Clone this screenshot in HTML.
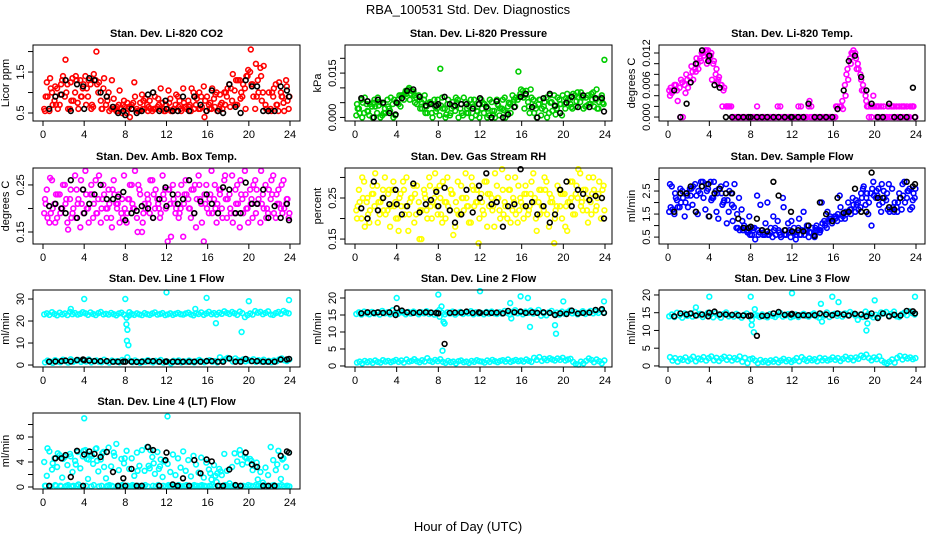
<!DOCTYPE html>
<html><head><meta charset="utf-8"><title>RBA_100531 Std. Dev. Diagnostics</title>
<style>
html,body{margin:0;padding:0;background:#fff;}
svg{display:block;font-family:"Liberation Sans",Arial,sans-serif;}
</style></head>
<body>
<svg id="chart" width="936" height="540" viewBox="0 0 936 540" xmlns="http://www.w3.org/2000/svg">
<text x="468" y="14" font-size="13" text-anchor="middle">RBA_100531  Std. Dev. Diagnostics</text>
<text x="468" y="531" font-size="13" text-anchor="middle">Hour of Day (UTC)</text>
</svg>
<script>
const xTicks=[0,4,8,12,16,20,24];
const xTickLabels=["0","4","8","12","16","20","24"];
const blackHours=[0.6,1.2,1.8,2.2,2.7,3.3,3.9,4.0,4.5,5.0,5.6,6.2,6.8,7.3,7.8,8.0,8.6,9.1,9.6,10.2,10.7,11.3,11.9,12.0,12.6,13.1,13.6,14.2,14.7,15.3,15.9,16.4,17.0,17.5,18.1,18.7,19.2,19.7,20.3,20.8,21.4,21.9,22.5,23.1,23.7,23.9];

const co2A=[0.6,1.25,0.55,1.0,0.8,1.1,0.7,1.3,0.9,1.2,0.6,1.35,1.0,0.75,1.3,1.1,1.4,0.9,1.2,0.65,1.3,1.0,0.8,1.1,0.7,1.0,0.6,0.85,0.55,0.7,0.6,0.8,0.5,0.65,0.7,1.25,0.6,0.55,0.95,0.6,0.7,0.8,0.55,0.9,0.65,0.6,0.75,0.55,0.6,0.85,0.55,0.7,0.9,0.6,1.1,0.65,0.8,0.55,1.0,0.7,0.6,0.9,1.15,0.55,0.7,0.6,0.85,1.0,0.6,0.75,1.0,0.9,1.2,0.8,1.05,0.7,1.3,0.9,1.1,1.4,1.5,1.2,0.6,1.3,1.6,1.0,0.7,0.55,0.6,0.9,1.2,0.55,1.0,0.75,1.3,0.6];
const co2B=[0.55,0.9,1.35,0.7,1.15,0.6,0.95,1.4,1.8,0.6,1.25,0.8,1.4,0.6,0.9,1.2,0.7,1.3,0.6,1.45,2.0,1.25,0.6,1.35,0.9,0.55,1.3,0.6,0.65,1.05,0.5,0.65,0.75,0.4,0.6,0.9,0.55,0.75,0.6,0.85,0.55,0.6,1.0,0.6,0.85,1.1,0.6,0.7,1.05,0.55,0.6,0.95,0.65,0.55,0.75,0.6,0.65,1.1,0.6,0.85,1.0,0.65,0.4,0.9,0.6,1.1,0.65,0.55,0.95,0.6,0.7,1.1,0.65,1.45,0.7,1.3,0.85,1.2,0.6,1.55,2.05,0.9,1.7,1.0,1.4,1.65,0.6,1.0,0.55,1.1,0.7,1.25,0.9,0.55,1.15,0.9];
const co2C=[0.9,1.1,0.7,1.2,1.0,0.8,1.3,0.9,1.1,0.7,1.2,0.6,0.8,0.65,0.55,0.7,0.6,0.75,0.55,0.8,0.65,0.6,0.7,0.55,0.75,0.6,0.8,0.65,0.7,0.9,0.6,0.8,0.75,0.95,0.7,1.0,1.1,1.3,1.0,1.4,1.2,0.9,0.8,0.6,1.0,0.7,0.9,0.8];
const co2Black=[0.6,0.9,0.95,1.3,0.55,1.2,1.15,0.6,1.35,1.3,1.0,0.9,0.65,0.5,0.55,0.45,0.6,0.5,0.55,0.95,1.0,0.55,0.8,0.6,0.55,0.55,0.9,0.55,0.9,0.7,0.55,1.05,0.55,0.5,1.2,0.65,0.5,1.3,1.15,1.15,0.55,0.55,0.55,1.15,1.05,0.9];
const co2Ticks=[0.5,1,1.5,2];
const co2TickLabels=["0.5","","1.5",""];

const presA=[0.7,3,6,1.5,4.5,0.7,3.7,6,1.5,5.2,0.7,3,6,2.2,4.5,0.7,6,3.7,7.5,9,9.5,8,8.7,6.7,7.5,5.2,6,3.7,4.5,1.5,6,3,0.7,6.7,3,4.5,0.7,5.2,2.2,6,3,0.7,5.2,1.5,6,3.7,0.7,4.5,6,1.5,3.7,0.7,5.2,2.2,6,0.7,3,6.7,1.5,4.5,7.5,3.7,6,8,9,7.5,5.2,9.5,6,3,4.5,0.7,3.7,6.7,1.5,5.2,7.5,3,6,0.7,4.5,8,6,3,7.5,8.5,5.2,6.7,3.7,7.5,4.5,8.5,6,3,6.7,4.5];
const presB=[4.5,1.5,0,6.7,2.2,4.5,0,3.7,6.7,0,4.5,1.5,3.7,6.7,0,5.2,4.5,7.5,6,8,10,9,7.5,4.5,6,3,7.5,1.5,5.2,0,3.7,6,16.5,3,0,6,1.5,3.7,6.7,0,4.5,6.7,1.5,3.7,0,6,2.2,0,3,4.5,0,6,2.2,0,4.5,3,6,0,3.7,1.5,5.2,6.7,15.5,9.5,6.7,9,3.7,6.7,1.5,0,6,3,5.2,0,7.5,2.2,3.7,6.7,4.5,7.5,3,6,4.5,8,3.7,6.7,8.5,3,6.7,4.5,8,3.7,9.5,5.2,7.5,19.5];
const presC=[3,5,2,5,4,1.5,3,6,7.5,8,6,5,3,1.5,5,2,4,1,3,5,1.5,3,4.5,2,5,3,1,4,2.5,5,6,7,3,1.5,4,6,2.5,5,1,4.5,6.5,3.5,5.5,7,4,6,3,5];
const presBlack=[6.5,5.5,0,6,5,1.5,1,5,6.5,9,9.5,7,4,4.5,4,4.5,7,4.5,4,4.5,4.5,3,4.5,6.5,3.5,0,5.5,0,1,3.5,7,8,3.5,0,6.5,8,4,1.5,5,7,3.5,7.5,3.5,6.5,6.5,2];
const presTicks=[0,5,10,15,20];
const presTickLabels=["0.000","","","0.015",""];

const tempA=[5,4.5,6,5,5.5,6.5,6,7,7.5,8.5,9,10,11,12,12.5,12.5,11.5,10,8,7,6,5,2,2,2,0,0,0,0,0,0,0,0,0,2,0,0,0,0,0,0,0,2,2,0,0,0,0,0,0,2,2,0,0,2,2,0,0,0,0,0,0,0,0,0,2,2,3,6,9,11,12,12,10,8,6,4,2,2,4,2,2,2,2,0,2,2,2,2,2,2,2,2,0,2,0];
const tempB=[4,5,6,3,0,0,4.5,5.5,6.5,7,8.5,9,10.5,11.5,12.5,11,12,10.5,9,7.5,6,5.5,2,2,0,0,0,0,0,0,0,0,0,0,0,0,0,0,0,0,0,0,0,0,0,0,0,0,0,0,0,0,0,0,3,0,0,0,0,0,0,0,0,0,0,1.5,2,1.5,4,7,10,12.5,11,9,7,5,3,0,0,2,0,0,0,0,0,0,0,0,0,0,0,0,0,2,2,0];
const tempC=[5.5,6,7,8,9.5,11,12,10,7,6.5,2,2,0,0,0,0,0,0,0,0,0,0,0,0,0,0,0,0,0,0,0,0,2,2,8,12,9,5,2,2,2,0,2,2,0,2,0,2];
const tempBlack=[5,0,2.5,6.5,10,12.5,10.5,11.5,6,5.5,0,0,0,0,0,0,0,0,0,0,0,0,0,0,0,0,2.5,0,0,0,0,1.5,5,10.5,11.5,7.5,5,2.5,0,0,2.5,0,0,0,5.5,0];
const tempTicks=[0,2,4,6,8,10,12];
const tempTickLabels=["0.000","","","0.006","","","0.012"];

const ambA=[0.19,0.24,0.17,0.26,0.21,0.18,0.23,0.2,0.25,0.17,0.22,0.19,0.27,0.21,0.16,0.24,0.28,0.2,0.23,0.18,0.26,0.22,0.17,0.25,0.2,0.24,0.18,0.26,0.21,0.23,0.19,0.27,0.17,0.22,0.25,0.2,0.18,0.24,0.15,0.21,0.23,0.19,0.26,0.2,0.22,0.18,0.27,0.24,0.13,0.21,0.25,0.19,0.23,0.2,0.14,0.26,0.22,0.18,0.24,0.16,0.27,0.21,0.13,0.25,0.19,0.28,0.22,0.17,0.24,0.2,0.26,0.18,0.23,0.27,0.19,0.25,0.16,0.22,0.28,0.2,0.24,0.18,0.26,0.21,0.17,0.23,0.25,0.19,0.22,0.27,0.18,0.24,0.2,0.26,0.21,0.18];
const ambB=[0.22,0.18,0.265,0.2,0.17,0.23,0.19,0.25,0.21,0.155,0.24,0.2,0.18,0.22,0.26,0.19,0.23,0.17,0.25,0.21,0.19,0.27,0.2,0.23,0.18,0.21,0.16,0.23,0.2,0.17,0.22,0.2,0.19,0.25,0.21,0.28,0.15,0.23,0.17,0.2,0.22,0.26,0.18,0.24,0.21,0.19,0.23,0.2,0.24,0.14,0.22,0.2,0.18,0.25,0.21,0.23,0.2,0.24,0.19,0.22,0.25,0.17,0.23,0.2,0.22,0.19,0.25,0.21,0.23,0.18,0.27,0.22,0.2,0.17,0.24,0.21,0.26,0.19,0.23,0.17,0.21,0.25,0.19,0.22,0.28,0.2,0.18,0.24,0.26,0.19,0.23,0.21,0.25,0.2,0.22,0.19];
const ambC=[0.21,0.19,0.23,0.2,0.22,0.18,0.24,0.21,0.2,0.23,0.19,0.22,0.2,0.24,0.21,0.18,0.22,0.2,0.25,0.19,0.21,0.23,0.2,0.22,0.24,0.21,0.19,0.23,0.2,0.25,0.22,0.21,0.23,0.2,0.24,0.22,0.19,0.21,0.23,0.2,0.22,0.24,0.21,0.2,0.23,0.21,0.19,0.22];
const ambBlack=[0.205,0.21,0.2,0.19,0.26,0.18,0.24,0.19,0.21,0.23,0.25,0.22,0.22,0.225,0.235,0.175,0.19,0.195,0.205,0.2,0.18,0.22,0.245,0.205,0.23,0.21,0.22,0.26,0.19,0.215,0.23,0.21,0.19,0.245,0.24,0.19,0.19,0.255,0.21,0.21,0.24,0.18,0.205,0.18,0.21,0.175];
const ambTicks=[0.15,0.2,0.25];
const ambTickLabels=["0.15","","0.25"];

const rhA=[0.22,0.27,0.2,0.29,0.24,0.19,0.26,0.23,0.28,0.21,0.25,0.3,0.22,0.18,0.27,0.24,0.2,0.26,0.29,0.23,0.17,0.25,0.28,0.21,0.24,0.15,0.27,0.22,0.3,0.2,0.25,0.23,0.28,0.19,0.24,0.3,0.22,0.26,0.18,0.29,0.21,0.25,0.31,0.23,0.19,0.27,0.24,0.14,0.26,0.21,0.29,0.23,0.25,0.18,0.28,0.22,0.32,0.24,0.2,0.27,0.22,0.3,0.19,0.25,0.23,0.28,0.21,0.26,0.31,0.2,0.24,0.27,0.22,0.29,0.18,0.25,0.14,0.23,0.27,0.2,0.26,0.17,0.24,0.29,0.21,0.25,0.31,0.22,0.27,0.19,0.24,0.3,0.22,0.26,0.2,0.28];
const rhB=[0.2,0.24,0.3,0.18,0.25,0.22,0.28,0.31,0.19,0.24,0.27,0.21,0.26,0.23,0.29,0.2,0.17,0.23,0.27,0.3,0.21,0.25,0.19,0.28,0.15,0.22,0.26,0.2,0.28,0.24,0.31,0.21,0.25,0.29,0.2,0.23,0.27,0.16,0.24,0.21,0.28,0.22,0.25,0.19,0.3,0.23,0.27,0.2,0.24,0.29,0.18,0.26,0.22,0.31,0.25,0.2,0.27,0.23,0.3,0.19,0.25,0.21,0.28,0.24,0.2,0.26,0.22,0.29,0.24,0.17,0.27,0.23,0.3,0.21,0.26,0.24,0.2,0.28,0.23,0.26,0.18,0.24,0.29,0.21,0.26,0.32,0.23,0.27,0.25,0.3,0.21,0.27,0.23,0.29,0.25,0.22];
const rhC=[0.23,0.25,0.21,0.26,0.24,0.22,0.27,0.23,0.25,0.21,0.24,0.26,0.22,0.25,0.23,0.27,0.21,0.24,0.26,0.22,0.25,0.23,0.28,0.24,0.22,0.26,0.23,0.25,0.21,0.27,0.24,0.22,0.26,0.23,0.25,0.21,0.27,0.24,0.22,0.26,0.23,0.25,0.28,0.24,0.22,0.26,0.25,0.27];
const rhBlack=[0.225,0.2,0.29,0.22,0.25,0.235,0.27,0.235,0.21,0.23,0.285,0.215,0.235,0.245,0.265,0.23,0.275,0.22,0.19,0.21,0.27,0.215,0.28,0.25,0.31,0.235,0.24,0.18,0.23,0.235,0.32,0.23,0.24,0.21,0.23,0.19,0.21,0.27,0.29,0.23,0.27,0.26,0.245,0.255,0.25,0.2];
const rhTicks=[0.15,0.2,0.25,0.3];
const rhTickLabels=["0.15","","0.25",""];

const sfA=[1.6,2.7,1.5,2.1,1.8,2.5,1.4,2.3,2.6,1.9,2.8,1.5,2.4,2.9,1.7,2.6,2.9,2.2,2.5,1.3,2.7,2.0,2.8,1.6,2.4,1.8,0.9,2.2,1.7,1.0,0.8,1.4,0.6,0.9,2.3,0.7,0.8,0.6,2.0,0.7,0.5,0.9,1.2,0.6,2.2,0.8,1.1,0.5,0.7,0.4,0.9,0.6,1.6,0.8,0.5,0.7,0.6,1.0,0.8,2.0,1.2,0.9,1.3,1.1,1.4,1.2,2.3,1.5,1.3,1.6,1.7,2.2,1.6,2.0,1.8,2.6,1.9,1.5,2.4,2.9,2.2,2.6,1.6,2.5,2.1,2.8,1.7,1.6,1.8,2.4,1.7,2.9,2.2,2.6,1.8,2.2];
const sfB=[2.8,1.7,2.4,1.8,2.6,2.2,2.0,1.8,2.3,2.7,1.6,2.5,2.9,2.2,2.8,1.4,2.1,2.9,1.6,2.6,2.4,2.1,1.1,2.5,1.9,2.8,1.5,0.8,1.2,0.9,0.7,0.6,0.9,0.4,0.8,1.9,0.6,1.1,0.6,0.9,1.4,0.6,0.8,0.5,1.8,0.6,0.7,1.2,0.9,0.6,1.3,0.8,0.6,1.0,0.7,0.9,0.5,0.8,0.7,1.1,1.0,1.6,1.4,1.2,1.3,1.5,1.8,1.4,1.6,2.0,1.5,1.9,2.1,1.7,2.4,2.7,2.2,2.0,1.0,2.3,2.5,1.9,2.8,2.2,2.4,1.6,2.6,2.0,1.6,2.2,2.8,2.0,2.5,1.7,2.1,2.6];
const sfC=[1.8,2.2,2.0,2.4,2.6,2.3,2.7,2.5,2.2,2.4,1.9,2.1,1.2,0.9,0.8,0.7,0.8,0.6,0.7,0.6,0.8,0.7,0.6,0.8,0.7,0.6,0.8,0.7,0.9,0.8,1.1,1.3,1.4,1.3,1.5,1.7,1.9,2.2,2.4,2.6,2.3,2.0,1.7,1.8,2.0,2.3,2.5,2.4];
const sfBlack=[1.6,2.4,2.4,2.7,1.6,2.7,2.8,1.4,2.4,2.6,2.4,2.4,1.3,0.9,0.9,0.95,1.3,0.8,0.75,2.9,2.3,0.8,1.6,0.75,0.8,0.75,1.0,0.55,2.0,1.5,1.2,2.2,1.55,1.6,2.6,1.6,1.6,3.3,2.2,2.2,1.8,1.7,2.2,2.9,2.7,2.8];
const sfTicks=[0.5,1,1.5,2,2.5,3];
const sfTickLabels=["0.5","","1.5","","2.5",""];

const l1A=[23,23.5,22.8,24,23.2,22.6,23.8,23,23.4,22.7,24.2,23.1,23.6,22.9,23.3,24,23.5,22.8,23.9,23.2,22.7,23.6,24.1,23,23.3,22.9,23.7,23.1,22.6,23.4,23.8,22.9,21.5,22.5,23.2,22.8,23.5,23,22.7,23.6,23.1,22.8,23.4,23.9,22.9,23.2,23.6,22.7,23,23.5,22.8,23.3,23.7,23.1,22.9,23.4,23.8,23,22.6,23.5,23.2,23.9,22.8,23.4,24.2,23.1,23.6,22.9,23.8,23.3,24.4,23.7,23.2,24.1,23.5,22.8,24.3,23.6,21.8,22.7,23.4,22.9,24.5,23.8,24.2,23.1,23.7,24.4,23,22.8,23.6,24.1,23.3,24.6,23.9,23.5];
const l1B=[1.2,2,1.5,1,2.2,1.6,1.3,2.4,1.8,1.1,2.6,1.5,1.9,2.3,1.4,2,1.6,2.5,1.2,1.8,2.1,1.5,1.3,2.4,1.7,1.1,2,1.5,1.8,1.2,2.3,1.6,3.5,1.9,1.3,2.1,1.5,1,1.8,1.4,2.2,1.6,1.2,1.9,1.5,2.3,1.1,1.7,1.4,0.8,1.9,1.5,2.1,1.2,1.7,1.4,2,1.5,1.2,1.8,2.3,1.6,1.3,1.9,2.2,1.5,1.8,1.2,3.5,2.1,2.6,3.2,2.8,1.6,3,2.2,1.9,2.5,1.7,2.3,1.8,2.6,1.4,2.2,1.6,2.4,1.5,1.9,1.3,2.1,1.7,2.5,3,2.2,1.8,2.6];
const l1ExtraHours=[2.7,4,8,8.1,8.2,8.15,8.3,8.4,12,14.8,15.9,16.8,19.3,20,23.9];
const l1ExtraValues=[25.5,30,30,18.5,16,11,9,24,33,25.5,30.5,19,15,29,29.5];
const l1Black=[1.5,1.6,1.8,2,1.6,2.3,2.5,2.2,2,1.8,1.8,1.8,1.5,1.5,1.5,1.5,1.5,1.4,1.5,1.8,1.8,1.5,1.5,1.6,1.5,1.5,1.5,1.5,1.5,1.5,1.8,1.8,1.5,1.5,3,1.5,1.5,2.8,1.8,1.8,1.5,1.5,1.5,2.5,2.5,2.8];
const l1Ticks=[0,10,20,30];
const l1TickLabels=["0","10","20","30"];

const l2A=[15.3,15.8,15.1,16,15.5,15.2,15.9,15.4,15.7,15.1,16.2,15.5,15.8,15.2,16.4,15.6,15.3,16.1,15.7,15.2,15.9,15.4,16,15.6,15.2,15.8,15.5,16.1,15.3,15.7,15.1,15.9,14.5,15.6,15.2,15.8,15.4,16,15.1,15.6,15.9,15.3,15.7,15.5,16.1,15.2,15.8,15.4,15.6,15.2,15.9,15.4,16,15.5,15.3,15.8,15.4,16.2,15.6,15.1,15.9,16.4,15.5,15.8,15.2,16,15.6,16.3,15.4,15.9,16.5,14.8,15.5,14.9,15.8,16.2,15.3,15.7,15.1,16,15.4,15.8,16.3,15.5,15.9,15.2,15.6,16.1,15.3,15.7,16.2,15.5,16,15.6,16.4,15.8];
const l2B=[1,1.3,0.8,1.5,1.1,1.4,0.9,1.6,1.2,1,1.7,1.3,1.5,1.1,1.4,1.8,1.2,1.6,1,1.9,1.3,1.5,2,1.4,1.1,1.7,1.3,2.3,1.5,1.2,1.8,1.4,2,1.2,0.9,1.5,1.1,1.3,0.8,1.4,1.6,1.1,1.3,0.9,1.5,1.2,1.7,1.4,1.3,1,1.6,1.2,1.8,1.4,1.1,1.5,1.7,1.3,1.9,1.2,1.5,1.8,1.4,1.6,1.3,1.9,1.5,1.2,2.4,1.8,2.6,1.5,2.1,1.7,2.3,1.9,1.6,2.2,1.8,2.4,1.6,1.9,2.1,1.2,0.6,0.4,1.3,0.8,1.5,2.2,1.8,1.1,1.9,1.4,0.8,1.6];
const l2ExtraHours=[4,8,8.1,8.3,8.5,8.6,8.4,12,14.9,15,15.9,16.8,16.6,19.2,19.3,20,23.9];
const l2ExtraValues=[20,21,16.5,17.5,13,12.5,4.5,22,18.5,14,20.5,11.5,20,12,9.5,19,19];
const l2Black=[15.5,15.8,15.6,15.8,15.6,15.8,15,17,16.3,15.8,15.6,15.8,15.8,15.7,15.6,15.5,6.5,15.6,15.7,15.7,16,15.6,15.8,15.6,15.7,15.6,15.7,15.5,16.2,15.8,16,15.6,15.8,15.6,15.8,15.6,15,15.5,15.3,16.3,15.4,15.6,15.7,16.5,16.7,15.6];
const l2Ticks=[0,5,10,15,20];
const l2TickLabels=["0","5","10","15","20"];

const l3A=[14,14.5,13.8,15,14.2,13.6,14.8,14.1,14.6,13.9,15.2,14.3,14.7,13.8,14.4,15,14.5,13.7,14.9,14.2,13.6,14.6,15.1,14,14.3,13.9,14.7,14.1,13.6,14.4,14.8,13.9,13,14.4,14.2,13.8,14.5,14,13.7,14.6,14.1,13.8,14.4,14.9,13.9,14.2,14.6,13.7,14,14.5,13.8,14.3,14.7,14.1,13.9,14.4,14.8,14,13.6,14.5,14.2,15.1,13.8,14.4,14.7,14.1,14.6,13.9,14.8,14.3,15.2,14.7,14.2,13,14.5,13.8,15.3,14.6,14.2,13.7,14.4,13.9,15.1,14.8,15.2,14.1,14.7,15.3,14,13.8,14.6,15,14.3,15.4,14.9,14.5];
const l3B=[2.5,1.5,2.2,1.2,2,1.7,2.4,1.4,1.9,2.6,1.3,2.1,1.8,2.5,1.5,2.2,2.7,1.6,2.3,1.4,2.1,2.6,1.7,2.4,1.5,2.2,1.8,2.7,1.2,2.3,0.8,1.9,2.1,1.5,0.8,1.7,1.1,1.4,0.9,1.6,1.2,1.8,1,1.5,2,1.3,1.7,1.1,1.6,2.2,1.3,2.5,1.8,1.4,2.1,1.6,1.9,1.3,2.3,1.6,2.1,1.5,1.8,2.4,1.7,2.2,1.4,2,2.6,1.8,2.3,1.6,2.4,2,2.9,2.5,3.2,2.2,1.6,2.4,1.9,2.7,1.5,1,0.7,1.2,1.8,0.9,2.3,2.8,1.8,2.6,2.1,2.4,1.9,2.2];
const l3ExtraHours=[2.7,4,8,8.1,8.3,8.4,12,14.8,14.9,15.9,16.5,19.2,19.3,20,23.9];
const l3ExtraValues=[16.5,19.5,19.5,11.5,9.5,16,20.5,17.5,12.5,19.5,18,10,12,18.5,19.5];
const l3Black=[14,14.8,14.5,14.8,14.2,14.5,14,15,15.3,14.5,14.5,14.4,14.3,14.2,14.1,14.2,8.5,14.1,14.2,14.8,15.2,14.4,14.5,14.7,14.3,14.3,14.3,14.3,14.8,14.5,14.3,14.8,14.5,14.2,14.7,14.5,14,14.8,13.5,14.8,14,14.4,14.2,15.5,15.4,14.8];
const l3Ticks=[0,5,10,15,20];
const l3TickLabels=["0","5","10","15","20"];

const l4A=[4,1.8,5.7,2.8,4.6,3.2,5.1,1.5,4.8,3.5,5.3,2.4,4.2,5.6,3,4.9,5.9,1.3,5.2,3.7,6.1,2.5,4.4,5.6,1.4,6.3,3.3,5.5,6.9,2.7,4.5,3.8,5.8,2.9,4.6,1.8,5.5,3.4,5.9,2.6,6.4,3,4.8,2.1,5.6,3.3,1.6,4.2,3.7,2.4,5.2,1.9,4.6,3.1,5.7,2.6,4.3,1.7,5,3.6,2.3,4.7,1.5,3.9,2.8,1.2,3.5,0.8,2.9,1.9,5.3,2.6,0.6,3.2,5.4,4.1,5.9,3.6,4.8,3.9,4.5,2.7,3.3,1.2,2.4,0.7,3.1,1.9,6.4,4.3,2.7,5.8,1.3,4.6,3.2,5.5];
const l4B=[0.2,6.2,0.1,3.8,0.3,5.4,0.2,4.5,0.1,0.3,4.9,0.2,3.6,0.4,0.1,5.8,0.2,4.4,0.1,0.3,6.2,0.1,0.2,3.2,0.1,0.3,0.2,5,0.1,0.2,0.3,4.6,0.2,0.1,0.3,0.2,2.6,0.1,0.2,0.3,0.1,5.9,0.2,0.1,0.3,4.4,0.2,0.1,0.3,0.2,0.1,0.2,0.3,0.1,0.2,0.3,0.2,0.1,0.3,0.2,0.1,0.3,0.2,0.1,0.2,0.3,0.1,2.2,0.2,0.1,0.3,0.2,0.1,0.2,0.3,0.1,5.2,0.2,0.1,0.3,0.2,0.1,0.3,0.2,0.1,0.3,0.2,0.1,0.2,0.3,0.1,0.2,0.3,0.1,0.2,0.1];
const l4C=[0.2,0.1,0.2,0.1,0.2,0.1,0.2,0.1,4.5,5,4.2,5.4,0.2,0.1,0.2,0.1,0.2,0.1,0.2,0.1,3.4,3.8,2.9,4.1,0.2,0.1,0.2,0.1,0.2,0.1,0.2,0.1,2.2,1.8,2.5,0.2,0.1,0.2,0.1,4.6,4.2,3.9,0.2,0.1,0.2,3.6,4.4,0.2];
const l4ExtraHours=[4,12.1];
const l4ExtraValues=[11,11.3];
const l4Black=[0.2,4.6,4.6,5.1,1.6,5.8,0.2,5.2,5.7,5.3,4.8,5.6,2.4,0.2,1.4,0.2,2.9,0.2,0.2,6.4,5.9,0.2,4.3,5.5,0.4,0.2,1.4,0.2,4.3,2.2,4.4,4.1,0.2,0.2,2.8,0.3,0.2,5.5,3.6,3.2,0.2,0.2,0.2,5.0,5.7,5.5];
const l4Ticks=[0,2,4,6,8,10];
const l4TickLabels=["0","","4","","8",""];

const SVGNS="http://www.w3.org/2000/svg";
const svg=document.getElementById('chart');
const cols=[{bl:33,br:300,x0:43,x24:290},{bl:345,br:612,x0:355,x24:605},{bl:659,br:925,x0:668,x24:916}];
const rows=[{top:45,bot:121},{top:168,bot:244},{top:290,bot:367},{top:413,bot:489}];
const panels=[
 {name:'co2',title:'Stan. Dev. Li-820 CO2',ylab:'Licor ppm',r:0,c:0,lo:0.305,hi:2.16,col:'#ff0000',series:[co2A,co2B,co2C],black:co2Black,ticks:co2Ticks,labels:co2TickLabels},
 {name:'pressure',title:'Stan. Dev. Li-820 Pressure',ylab:'kPa',r:0,c:1,lo:-1.2,hi:24.5,col:'#00cc00',series:[presA,presB,presC],black:presBlack,ticks:presTicks,labels:presTickLabels},
 {name:'li820-temp',title:'Stan. Dev. Li-820 Temp.',ylab:'degrees C',r:0,c:2,lo:-0.74,hi:13.5,col:'#ff00ff',series:[tempA,tempB,tempC],black:tempBlack,ticks:tempTicks,labels:tempTickLabels},
 {name:'amb-box-temp',title:'Stan. Dev. Amb. Box Temp.',ylab:'degrees C',r:1,c:0,lo:0.1245,hi:0.286,col:'#ff00ff',series:[ambA,ambB,ambC],black:ambBlack,ticks:ambTicks,labels:ambTickLabels},
 {name:'gas-stream-rh',title:'Stan. Dev. Gas Stream RH',ylab:'percent',r:1,c:1,lo:0.138,hi:0.323,col:'#ffff00',series:[rhA,rhB,rhC],black:rhBlack,ticks:rhTicks,labels:rhTickLabels},
 {name:'sample-flow',title:'Stan. Dev. Sample Flow',ylab:'ml/min',r:1,c:2,lo:0.2,hi:3.5,col:'#0000ff',series:[sfA,sfB,sfC],black:sfBlack,ticks:sfTicks,labels:sfTickLabels},
 {name:'line1-flow',title:'Stan. Dev. Line 1 Flow',ylab:'ml/min',r:2,c:0,lo:-0.9,hi:34.1,col:'#00ffff',series:[l1A,l1B],exH:l1ExtraHours,exV:l1ExtraValues,black:l1Black,ticks:l1Ticks,labels:l1TickLabels},
 {name:'line2-flow',title:'Stan. Dev. Line 2 Flow',ylab:'ml/min',r:2,c:1,lo:-0.3,hi:22.35,col:'#00ffff',series:[l2A,l2B],exH:l2ExtraHours,exV:l2ExtraValues,black:l2Black,ticks:l2Ticks,labels:l2TickLabels},
 {name:'line3-flow',title:'Stan. Dev. Line 3 Flow',ylab:'ml/min',r:2,c:2,lo:-0.3,hi:21.4,col:'#00ffff',series:[l3A,l3B],exH:l3ExtraHours,exV:l3ExtraValues,black:l3Black,ticks:l3Ticks,labels:l3TickLabels},
 {name:'line4-flow',title:'Stan. Dev. Line 4 (LT) Flow',ylab:'ml/min',r:3,c:0,lo:-0.32,hi:11.84,col:'#00ffff',series:[l4A,l4B,l4C],exH:l4ExtraHours,exV:l4ExtraValues,black:l4Black,ticks:l4Ticks,labels:l4TickLabels}
];
function mk(tag,attrs,parent){const e=document.createElementNS(SVGNS,tag);for(const k in attrs)e.setAttribute(k,attrs[k]);(parent||svg).appendChild(e);return e;}
panels.forEach(p=>{
 const C=cols[p.c],R=rows[p.r];
 const xs=h=>C.x0+(C.x24-C.x0)*h/24;
 const ys=v=>R.bot-(v-p.lo)/(p.hi-p.lo)*(R.bot-R.top);
 const g=mk('g',{});
 
 
 const t=mk('text',{x:(C.bl+C.br)/2,y:R.top-8,'font-size':'11','font-weight':'bold','text-anchor':'middle'},g);
 t.textContent=p.title;
 
 
 const pts=mk('g',{fill:'none','stroke-width':'1.6'},g);
 
 
 const dot=(h,v,color)=>{const c=mk('circle',{cx:xs(h).toFixed(1),cy:ys(v).toFixed(1),r:'2.4',stroke:color},pts);
  
  };
 p.series.forEach((s,si)=>{const off=0.12+si*0.07;s.forEach((v,i)=>dot(i*24/s.length+off,v,p.col));});
 if(p.exH){p.exH.forEach((h,i)=>dot(h,p.exV[i],p.col));}
 p.black.forEach((v,i)=>{if(i<blackHours.length)dot(blackHours[i],v,'#000000');});
 const box=mk('rect',{x:C.bl,y:R.top,width:C.br-C.bl,height:R.bot-R.top,fill:'none',stroke:'#000','stroke-width':'1'},g);
 
 
 const xa=mk('g',{},g);
 
 
 xTicks.forEach((h,i)=>{const x=xs(h);mk('line',{x1:x,x2:x,y1:R.bot,y2:R.bot+5,stroke:'#000'},xa);
  const l=mk('text',{x:x,y:R.bot+17,'font-size':'11','text-anchor':'middle'},xa);l.textContent=xTickLabels[i];});
 const ya=mk('g',{},g);
 
 
 mk('line',{x1:C.bl,x2:C.bl,y1:ys(p.ticks[0]),y2:ys(p.ticks[p.ticks.length-1]),stroke:'#000'},ya);
 p.ticks.forEach((v,i)=>{const y=ys(v);mk('line',{x1:C.bl-5,x2:C.bl,y1:y,y2:y,stroke:'#000'},ya);
  if(p.labels[i]){const l=mk('text',{x:0,y:0,'font-size':'11','text-anchor':'middle',transform:`translate(${C.bl-9},${y}) rotate(-90)`},ya);l.textContent=p.labels[i];}});
 const yl=mk('text',{x:0,y:0,'font-size':'11','text-anchor':'middle',transform:`translate(${C.bl-24},${(R.top+R.bot)/2}) rotate(-90)`},g);
 yl.textContent=p.ylab;
 
 
});
</script>
</body></html>
